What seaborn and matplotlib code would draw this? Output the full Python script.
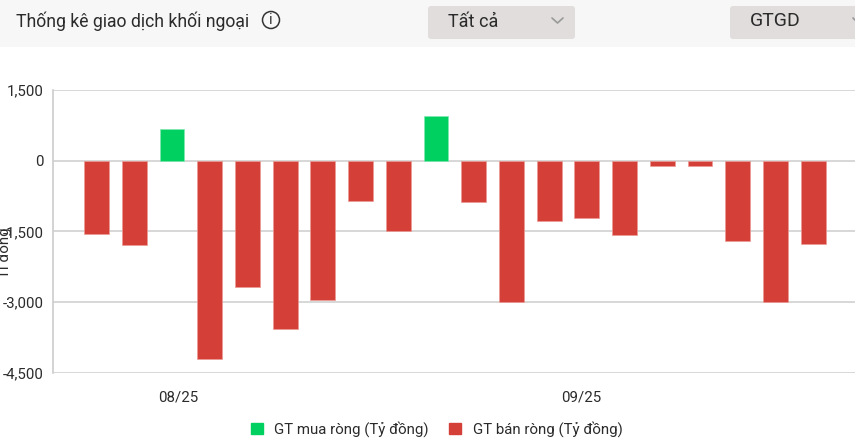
import pandas as pd
import seaborn as sns
import matplotlib.pyplot as plt
from matplotlib.patches import FancyBboxPatch, Rectangle, Circle
from matplotlib.lines import Line2D
from matplotlib.patches import Patch

# net foreign trading per session (ty dong)
sessions = list(range(1, 21))
net_values = [-1550, -1800, 680, -4200, -2690, -3580, -2950, -860, -1495, 945,
              -870, -3010, -1275, -1210, -1580, -120, -120, -1710, -3000, -1760]
buy_label = 'GT mua ròng (Tỷ đồng)'
sell_label = 'GT bán ròng (Tỷ đồng)'
y_ticks = [1500, 0, -1500, -3000, -4500]
month_labels = ['08/25', '09/25']
month_positions = [2.17, 12.84]

W, H = 855, 447
GREEN = '#00d060'
RED = '#d44038'
TEXT = '#2b2b2b'

sns.set_theme(style='white')
plt.rcParams['font.family'] = ['Roboto', 'DejaVu Sans']

df = pd.DataFrame({'session': sessions, 'net': net_values})
df['side'] = [buy_label if v > 0 else sell_label for v in net_values]

fig = plt.figure(figsize=(W / 100, H / 100), dpi=100, facecolor='white')
ax = fig.add_axes([53 / W, 1 - 372.7 / H, (W - 53) / W, (372.7 - 90) / H])

sns.barplot(data=df, x='session', y='net', hue='side',
            palette={buy_label: GREEN, sell_label: RED},
            hue_order=[buy_label, sell_label], dodge=False, width=0.66, saturation=1,
            edgecolor='#eb9a95', linewidth=0.5, legend=False, ax=ax, zorder=3)
for bar in ax.patches:
    if bar.get_height() > 0:
        bar.set_edgecolor('#7fe8af')

ax.set_xlim(-1.155, 20.11)
ax.set_ylim(-4500, 1500)
ax.set_yticks(y_ticks)
ax.set_yticklabels([f'{v:,}' for v in y_ticks], fontsize=10.8, color=TEXT)
ax.set_xticks(month_positions)
ax.set_xticklabels(month_labels, fontsize=10.8, color=TEXT)
ax.set_xlabel('')
ax.set_ylabel('')
ax.tick_params(axis='y', length=0, pad=7)
ax.tick_params(axis='x', length=0, pad=13)
ax.grid(axis='y', color='#d4d4d4', linewidth=1.3, zorder=0)
ax.set_axisbelow(True)
for side in ['top', 'right', 'bottom']:
    ax.spines[side].set_visible(False)
ax.spines['left'].set_color('#cccccc')
ax.spines['left'].set_linewidth(1.2)

# cut-off axis title at the left edge
fig.text(-3 / W, 1 - 278 / H, 'Tỉ đồng', rotation=90, fontsize=10.8, color=TEXT,
         ha='left', va='bottom')

handles = [Patch(color=GREEN, label=buy_label), Patch(color=RED, label=sell_label)]
fig.legend(handles=handles, ncols=2, loc='center', bbox_to_anchor=(436.5 / W, 1 - 429 / H),
           frameon=False, fontsize=10.8, labelcolor=TEXT, handlelength=0.8, handleheight=0.8,
           handletextpad=0.75, columnspacing=1.4, borderpad=0)

# header strip with title and dropdowns
fig.add_artist(Rectangle((0, 1 - 47 / H), 1, 47 / H, transform=fig.transFigure,
                         facecolor='#f7f7f7', edgecolor='none'))
px = fig.add_axes([0, 0, 1, 1], facecolor='none')
px.set_zorder(5)
px.set_xlim(0, W)
px.set_ylim(H, 0)
px.axis('off')
px.text(16, 21, 'Thống kê giao dịch khối ngoại', fontsize=12.7, color=TEXT,
        ha='left', va='center')
px.add_patch(Circle((271, 20), 8.5, fill=False, edgecolor='#333333', linewidth=1.1))
px.text(271, 20.5, 'i', fontsize=10.5, color='#333333', ha='center', va='center')
for x0, x1 in [(428, 575), (730, 870)]:
    px.add_patch(FancyBboxPatch((x0 + 3, 9), x1 - x0 - 6, 27, boxstyle='round,pad=3',
                                facecolor='#e0dddc', edgecolor='none'))
px.text(448, 22, 'Tất cả', fontsize=13, color=TEXT, ha='left', va='center')
px.text(750, 21.5, 'GTGD', fontsize=14, color=TEXT, ha='left', va='center')
px.add_line(Line2D([552, 557.5, 563], [18, 23, 18], color='#999999', linewidth=1.2))
px.add_line(Line2D([853, 858], [18, 23], color='#999999', linewidth=1.2))

fig.savefig('out.png', dpi=100)
